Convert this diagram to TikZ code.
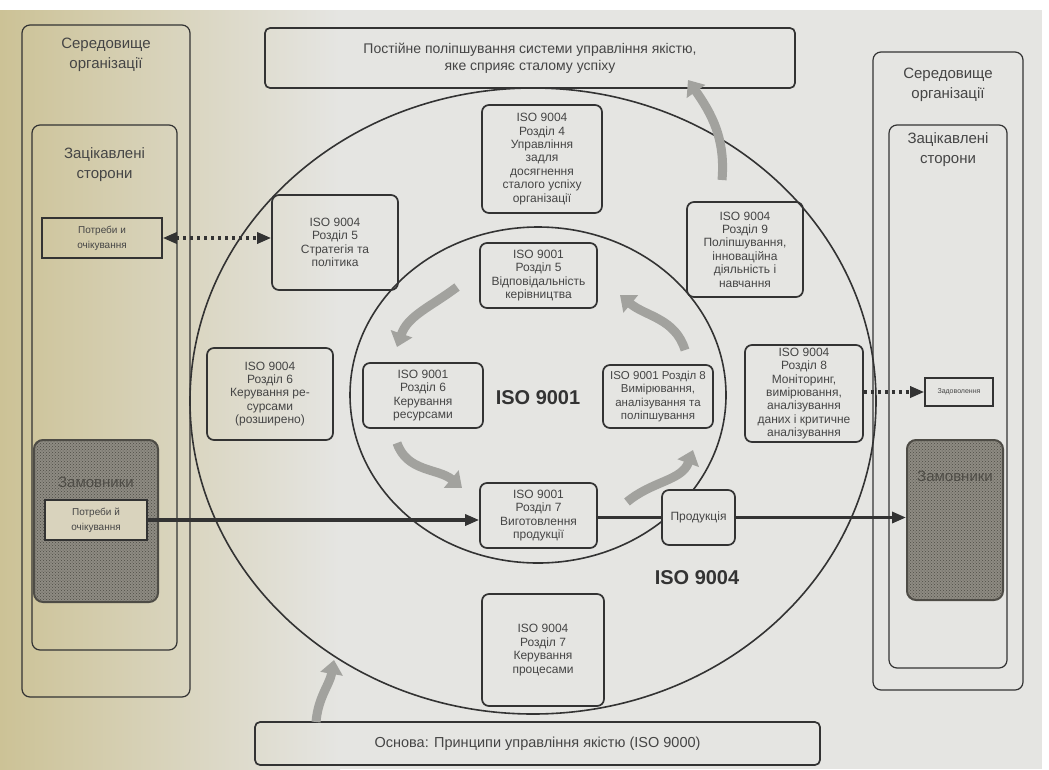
\documentclass[tikz,border=0pt]{standalone}
\usepackage{fontspec}
\setmainfont{Liberation Sans}
\usetikzlibrary{arrows.meta,patterns}
\definecolor{ink}{HTML}{333333}
\definecolor{txt}{HTML}{454545}
\definecolor{beige}{HTML}{CCC296}
\definecolor{paper}{HTML}{E5E5E2}
\definecolor{zam}{HTML}{8E8B82}
\definecolor{zamdark}{HTML}{4E4C46}
\definecolor{fatc}{HTML}{A2A29E}
\definecolor{lightbox}{HTML}{D9D3BD}
\begin{document}
\begin{tikzpicture}[x=1pt,y=-1pt,
  box/.style={draw=ink,line width=1.7pt,rounded corners=7pt,align=center,text=txt,
    font=\fontsize{12}{13.4}\selectfont,inner sep=1pt},
  frame/.style={draw=ink,line width=1.2pt,rounded corners=8pt},
  title/.style={align=center,text=txt,font=\fontsize{15}{20}\selectfont},
  smallbox/.style={draw=ink,line width=1.6pt,align=center,text=txt,
    font=\fontsize{10}{15}\selectfont,inner sep=1pt},
  zambox/.style={draw=zamdark,line width=2pt,rounded corners=9pt,fill=zam,
    postaction={pattern=crosshatch dots,pattern color=zamdark}},
  bigtxt/.style={text=ink,font=\fontsize{20}{24}\selectfont\bfseries},
  solidcon/.style={draw=ink,line width=3.2pt},
  dotcon/.style={draw=ink,line width=3.2pt,dash pattern=on 3pt off 4pt},
  fatarrow/.style={draw=fatc,line width=9pt,-{Triangle[width=22pt,length=14pt]}}]
\useasboundingbox (0,0) rectangle (1049,769);
\fill[white] (0,0) rectangle (1049,769);
\fill[paper] (0,10) rectangle (1042,769);
\shade[left color=beige,right color=paper] (0,10) rectangle (340,769);
% circles
\draw[ink,line width=1.6pt] (533,401) ellipse [x radius=343pt,y radius=313pt];
\draw[ink,line width=1.6pt] (538,395) ellipse [x radius=188pt,y radius=168pt];
% left column
\node[frame,minimum width=168pt,minimum height=672pt] (lout) at (106,361) {};
\node[title] (louttitle) at (106,55) {Середовище\\організації};
\node[frame,minimum width=145pt,minimum height=525pt] (lin) at (104.5,387.5) {};
\node[title] (lintitle) at (104.5,165) {Зацікавлені\\сторони};
\node[smallbox,minimum width=120pt,minimum height=40pt] (lneeds) at (102,238) {Потреби и\\очікування};
\node[zambox,minimum width=124pt,minimum height=162pt] (lzam) at (96,521) {};
\node[title,text=zamdark] (lzamtitle) at (96,482) {Замовники};
\node[smallbox,fill=lightbox,minimum width=102pt,minimum height=40pt] (lzneeds) at (96,520) {Потреби й\\очікування};
% right column
\node[frame,minimum width=150pt,minimum height=638pt] (rout) at (948,371) {};
\node[title] (routtitle) at (948,85) {Середовище\\організації};
\node[frame,minimum width=118pt,minimum height=543pt] (rin) at (948,396.5) {};
\node[title] (rintitle) at (948,150) {Зацікавлені\\сторони};
\node[smallbox,minimum width=68pt,minimum height=28pt,font=\fontsize{7}{8}\selectfont] (rsat) at (959,392) {Задоволення};
\node[zambox,minimum width=96pt,minimum height=160pt] (rzam) at (955,520) {};
\node[title,text=zamdark] (rzamtitle) at (955,476) {Замовники};
% top and bottom
\node[box,rounded corners=5pt,minimum width=530pt,minimum height=60pt,font=\fontsize{14}{17}\selectfont] (top) at (530,58)
  {Постійне поліпшування системи управління якістю,\\яке сприяє сталому успіху};
\node[box,rounded corners=5pt,minimum width=565pt,minimum height=43pt,font=\fontsize{14.5}{17}\selectfont] (bottom) at (537.5,743.5)
  {Основа: Принципи управління якістю (ISO 9000)};
% boxes
\node[box,minimum width=120pt,minimum height=108pt] (b4) at (542,159)
  {ISO 9004\\Розділ 4\\Управління\\задля\\досягнення\\сталого успіху\\організації};
\node[box,minimum width=117pt,minimum height=65pt] (b5i) at (538.5,275.5)
  {ISO 9001\\Розділ 5\\Відповідальність\\керівництва};
\node[box,minimum width=116pt,minimum height=95pt] (b9) at (745,249.5)
  {ISO 9004\\Розділ 9\\Поліпшування,\\інноваційна\\діяльність і\\навчання};
\node[box,minimum width=118pt,minimum height=97pt] (b8o) at (804,393.5)
  {ISO 9004\\Розділ 8\\Моніторинг,\\вимірювання,\\аналізування\\даних і критичне\\аналізування};
\node[box,minimum width=110pt,minimum height=63pt,font=\fontsize{11.5}{13.4}\selectfont] (b8i) at (658,396.5)
  {ISO 9001 Розділ 8\\Вимірювання,\\аналізування та\\поліпшування};
\node[box,minimum width=120pt,minimum height=65pt] (b6i) at (423,395.5)
  {ISO 9001\\Розділ 6\\Керування\\ресурсами};
\node[box,minimum width=126pt,minimum height=92pt] (b6o) at (270,394)
  {ISO 9004\\Розділ 6\\Керування ре-\\сурсами\\(розширено)};
\node[box,minimum width=126pt,minimum height=95pt] (b5o) at (335,242.5)
  {ISO 9004\\Розділ 5\\Стратегія та\\політика};
\node[box,minimum width=117pt,minimum height=65pt] (b7i) at (538.5,515.5)
  {ISO 9001\\Розділ 7\\Виготовлення\\продукції};
\node[box,fill=paper,minimum width=73pt,minimum height=55pt] (prod) at (698.5,517.5) {Продукція};
\node[box,minimum width=122pt,minimum height=112pt] (b7o) at (543,650)
  {ISO 9004\\Розділ 7\\Керування\\процесами};
\node[bigtxt] (l9001) at (538,398) {ISO 9001};
\node[bigtxt] (l9004) at (697,578) {ISO 9004};
% connectors
\draw[dotcon,{Triangle[width=11pt,length=14pt]}-{Triangle[width=11pt,length=14pt]}] (lneeds.east) -- (lneeds.east -| b5o.west);
\draw[dotcon,-{Triangle[width=11pt,length=14pt]}] (b8o.east |- rsat.west) -- (rsat.west);
\draw[solidcon,-{Triangle[width=11pt,length=14pt]}] (lzneeds.east) -- (lzneeds.east -| b7i.west);
\draw[solidcon] (b7i.east |- prod.west) -- (prod.west);
\draw[solidcon,-{Triangle[width=11pt,length=14pt]}] (prod.east) -- (prod.east -| rzam.west);
% fat curved arrows
\coordinate (a1s) at (722,180); \coordinate (a1e) at (688,80);
\draw[fatarrow] (a1s) to[out=85,in=-55] (a1e);
\coordinate (a2s) at (316,722); \coordinate (a2e) at (334,660);
\draw[fatarrow] (a2s) to[out=85,in=-100] (a2e);
\coordinate (c1s) at (457,287); \coordinate (c1e) at (397,347);
\draw[fatarrow] (c1s) to[out=217,in=71] (c1e);
\coordinate (c2s) at (397,443); \coordinate (c2e) at (462,488);
\draw[fatarrow] (c2s) to[out=289,in=140] (c2e);
\coordinate (c3s) at (627,502); \coordinate (c3e) at (693,450);
\draw[fatarrow] (c3s) to[out=40,in=250] (c3e);
\coordinate (c4s) at (685,350); \coordinate (c4e) at (620,295);
\draw[fatarrow] (c4s) to[out=107,in=320] (c4e);
\end{tikzpicture}
\end{document}
